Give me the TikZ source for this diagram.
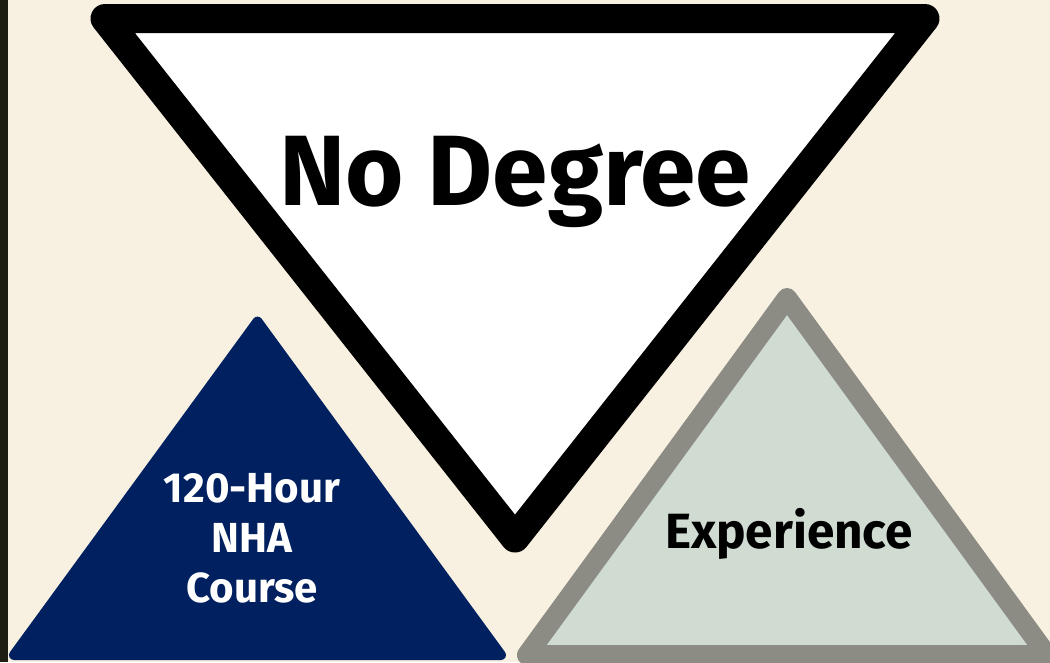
\documentclass[tikz,border=0pt]{standalone}
\usepackage{fontspec}
\setmainfont{Fira Sans}
\definecolor{bgcream}{HTML}{F8F1E1}
\definecolor{stripdark}{HTML}{1E1E12}
\definecolor{navy}{HTML}{002060}
\definecolor{greyedge}{HTML}{8C8C84}
\definecolor{sagefill}{HTML}{D0DBD2}
\tikzset{
  bigtri/.style={draw=black, fill=white, line width=29pt, line join=round},
  navytri/.style={draw=navy, fill=navy, line width=10pt, line join=round},
  greytri/.style={draw=greyedge, fill=sagefill, line width=20pt, line join=round},
  label/.style={font=\bfseries, anchor=base, inner sep=0pt, align=center}
}
\begin{document}
\begin{tikzpicture}[x=1pt,y=-1pt]
\useasboundingbox (0,0) rectangle (1050,662);
\fill[bgcream] (0,0) rectangle (1050,662);
\fill[stripdark] (0,0) rectangle (8,662);
\clip (8,0) rectangle (1050,662);
% big inverted triangle
\coordinate (bt1) at (105,18.5);
\coordinate (bt2) at (925,18.5);
\coordinate (bt3) at (515,538);
\draw[bigtri] (bt1) -- (bt2) -- (bt3) -- cycle;
% navy triangle
\coordinate (nt1) at (257.5,321.6);
\coordinate (nt2) at (501,655);
\coordinate (nt3) at (14,655);
\draw[navytri] (nt1) -- (nt2) -- (nt3) -- cycle;
% grey triangle
\coordinate (gt1) at (787,298);
\coordinate (gt2) at (1047,655);
\coordinate (gt3) at (527,655);
\draw[greytri] (gt1) -- (gt2) -- (gt3) -- cycle;
% labels
\node[label, text=black, font=\bfseries\fontsize{100}{100}\selectfont] (nodeg) at (515,205) {No Degree};
\node[label, text=white, font=\bfseries\fontsize{42}{50}\selectfont] (l1) at (252,502) {120-Hour};
\node[label, text=white, font=\bfseries\fontsize{42}{50}\selectfont] (l2) at (252,552) {NHA};
\node[label, text=white, font=\bfseries\fontsize{42}{50}\selectfont] (l3) at (252,602) {Course};
\node[label, text=black, font=\bfseries\fontsize{49.5}{49.5}\selectfont] (exp) at (789,548) {Experience};
\end{tikzpicture}
\end{document}
